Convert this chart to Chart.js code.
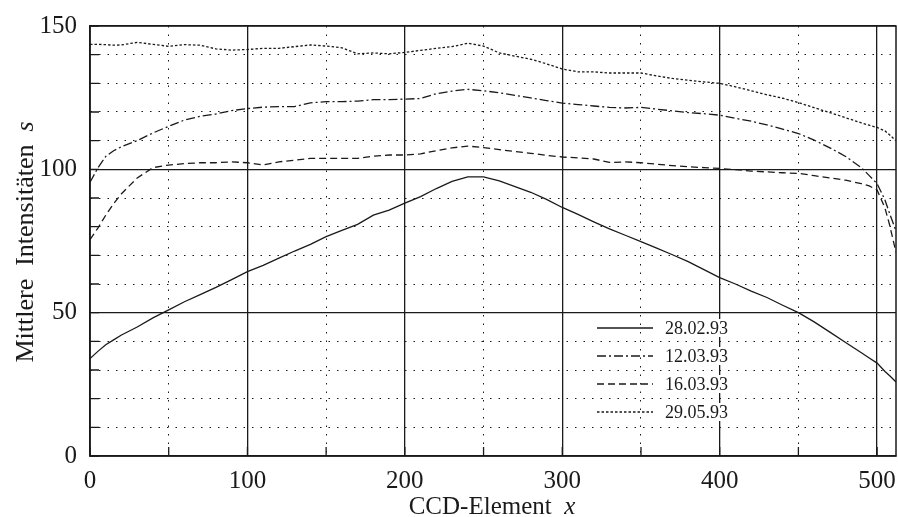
<!DOCTYPE html>
<html>
<head>
<meta charset="utf-8">
<script src="https://cdn.jsdelivr.net/npm/chart.js@4/dist/chart.umd.min.js"></script>
<style>
  html, body { margin: 0; padding: 0; background: #fff; }
  canvas { display: block; }
</style>
</head>
<body>
<canvas id="chart" width="898" height="517"></canvas>
<script>
// Mittlere Intensitaeten ueber CCD-Element, vier Messtage.
const X_POS = [0, 5, 10, 15, 20, 30, 40, 50, 60, 70, 80, 90, 100, 110, 120, 130, 140, 150,
  160, 170, 180, 190, 200, 210, 220, 230, 240, 250, 260, 270, 280, 290, 300, 310, 320,
  330, 340, 350, 360, 370, 380, 390, 400, 410, 420, 430, 440, 450, 460, 470, 480, 490,
  495, 500, 505, 508, 512];

const S_280293 = [34, 36.5, 38.8, 40.5, 42.2, 45, 48.2, 51, 53.8, 56.3, 58.8, 61.5, 64.3,
  66.5, 69, 71.5, 73.8, 76.5, 78.7, 80.8, 84, 85.8, 88.2, 90.5, 93.3, 95.8, 97.4, 97.4,
  96, 94, 92, 89.5, 86.7, 84.3, 81.7, 79.2, 77, 74.8, 72.5, 70.2, 67.8, 65, 62.2, 60,
  57.5, 55.3, 52.6, 50, 46.8, 43.2, 39.6, 36, 34.2, 32.4, 29.5, 28, 25.8];

const S_120393 = [95.5, 100.5, 104.5, 106.5, 107.9, 110, 112.7, 115, 117.2, 118.5, 119.3,
  120.5, 121.2, 121.7, 121.9, 121.9, 123.2, 123.6, 123.6, 123.8, 124.3, 124.3, 124.5,
  124.7, 126.4, 127.3, 127.9, 127.4, 126.7, 125.8, 124.9, 124, 123.1, 122.6, 122.1,
  121.6, 121.4, 121.6, 121, 120.4, 119.8, 119.4, 118.9, 117.8, 116.8, 115.5, 114, 112.5,
  110.2, 107.5, 104.5, 100.6, 97.8, 95, 89.3, 84.5, 78.5];

const S_160393 = [75.5, 79.5, 84, 88, 91.5, 97, 100.6, 101.5, 102, 102.3, 102.3, 102.6,
  102.3, 101.5, 102.6, 103.2, 103.8, 103.8, 103.8, 103.8, 104.6, 105, 105, 105.4, 106.5,
  107.5, 108.1, 107.6, 106.9, 106.2, 105.6, 104.9, 104.3, 104, 103.6, 102.4, 102.6,
  102.3, 101.8, 101.3, 100.9, 100.6, 100.3, 99.9, 99.4, 99.1, 98.8, 98.6, 97.8, 97, 96.2,
  95, 94.2, 92.8, 86.5, 80.5, 71];

const S_290593 = [143.6, 143.6, 143.5, 143.3, 143.4, 144.3, 143.6, 142.9, 143.5, 143.3,
  142, 141.6, 141.8, 142.2, 142.2, 142.8, 143.4, 143, 142.4, 140.3, 140.6, 140.3, 140.8,
  141.5, 142.2, 142.8, 144, 143, 140.6, 139.5, 138.4, 136.8, 135, 134, 134, 133.6, 133.6,
  133.6, 132.6, 131.7, 131.1, 130.5, 130, 128.8, 127.4, 126, 124.8, 123.3, 121.5, 119.8,
  118, 116.2, 115.4, 114.6, 113.4, 112, 110];

const LABELS = ["28.02.93", "12.03.93", "16.03.93", "29.05.93"];
const SERIES = [S_280293, S_120393, S_160393, S_290593];

// Linienstile (Strichmuster) der Kurven
const DASHES = [[], [9, 3, 2, 3], [7, 4], [2.5, 2]];

const INK = "#1a1a1a";
const SERIF = "'Liberation Serif', 'Times New Roman', serif";
const DOTS = [1.5, 7];

function points(ys) {
  return X_POS.map((x, i) => ({ x: x, y: ys[i] }));
}

// Rahmen, Innen-Ticks, Legende und Achsentitel (mit kursivem Symbol)
const decor = {
  id: "decor",
  afterDraw(chart) {
    const { ctx, chartArea: a, scales } = chart;
    ctx.save();
    ctx.strokeStyle = INK;
    ctx.setLineDash([]);

    // Innen-Ticks
    ctx.lineWidth = 1.3;
    ctx.beginPath();
    scales.y.ticks.forEach(t => {
      const y = scales.y.getPixelForValue(t.value);
      ctx.moveTo(a.left, y); ctx.lineTo(a.left + 9, y);
    });
    scales.x.ticks.forEach(t => {
      const x = scales.x.getPixelForValue(t.value);
      ctx.moveTo(x, a.bottom); ctx.lineTo(x, a.bottom - 9);
    });
    ctx.stroke();

    // Rahmen
    ctx.lineWidth = 1.5;
    ctx.strokeRect(a.left, a.top, a.right - a.left, a.bottom - a.top);

    // Legende
    const rows = [328, 356, 384, 412];
    ctx.font = "18px " + SERIF;
    ctx.textBaseline = "middle";
    ctx.textAlign = "left";
    chart.data.datasets.forEach((ds, i) => {
      const y = rows[i];
      const w = ctx.measureText(ds.label).width;
      ctx.fillStyle = "#fff";
      ctx.fillRect(663, y - 9, w + 4, 18);
      ctx.strokeStyle = INK;
      ctx.lineWidth = ds.borderWidth;
      ctx.setLineDash(ds.borderDash);
      ctx.beginPath();
      ctx.moveTo(597, y); ctx.lineTo(653, y);
      ctx.stroke();
      ctx.setLineDash([]);
      ctx.fillStyle = INK;
      ctx.fillText(ds.label, 665, y + 1);
    });

    // Achsentitel
    function mixed(parts, cx, baseY) {
      let total = 0;
      parts.forEach(p => { ctx.font = p.font; total += ctx.measureText(p.text).width; });
      let x = cx - total / 2;
      parts.forEach(p => {
        ctx.font = p.font;
        ctx.fillText(p.text, x, baseY);
        x += ctx.measureText(p.text).width;
      });
    }
    ctx.fillStyle = INK;
    ctx.textBaseline = "alphabetic";
    ctx.textAlign = "left";
    mixed([
      { text: "CCD-Element  ", font: "25px " + SERIF },
      { text: "x", font: "italic 25px " + SERIF },
    ], (a.left + a.right) / 2 - 1, 514);

    ctx.save();
    ctx.translate(33, (a.top + a.bottom) / 2 + 1);
    ctx.rotate(-Math.PI / 2);
    mixed([
      { text: "Mittlere  Intensitäten  ", font: "26px " + SERIF },
      { text: "s", font: "italic 26px " + SERIF },
    ], 0, 0);
    ctx.restore();

    ctx.restore();
  }
};

new Chart(document.getElementById("chart"), {
  type: "line",
  data: {
    datasets: SERIES.map((ys, i) => ({
      label: LABELS[i],
      data: points(ys),
      borderColor: INK,
      borderWidth: 1.3,
      borderDash: DASHES[i],
      pointRadius: 0,
      tension: 0,
      fill: false,
    })),
  },
  options: {
    responsive: false,
    animation: false,
    devicePixelRatio: 1,
    layout: { padding: { top: 26, right: 2, left: 0, bottom: 0 } },
    plugins: { legend: { display: false }, tooltip: { enabled: false } },
    scales: {
      x: {
        type: "linear", min: 0, max: 512,
        afterFit: s => { s.height = 61; s.paddingLeft = 0; s.paddingRight = 0; },
        ticks: {
          stepSize: 50, includeBounds: false, autoSkip: false, maxRotation: 0,
          padding: 10, color: INK, font: { family: SERIF, size: 25 },
          callback: v => (v % 100 === 0 ? String(v) : ""),
        },
        grid: {
          drawTicks: false, color: INK,
          lineWidth: c => (c.tick && c.tick.value % 100 === 0 ? 1.3 : 1),
        },
        border: {
          display: true, color: INK, width: 1.5,
          dash: c => (c.tick && c.tick.value % 100 !== 0 ? DOTS : []),
        },
      },
      y: {
        type: "linear", min: 0, max: 150,
        afterFit: s => { s.width = 90; s.paddingTop = 0; s.paddingBottom = 0; },
        ticks: {
          stepSize: 10, autoSkip: false, padding: 13, color: INK,
          font: { family: SERIF, size: 25 },
          callback: v => (v % 50 === 0 ? String(v) : ""),
        },
        grid: {
          drawTicks: false, color: INK,
          lineWidth: c => (c.tick && c.tick.value % 50 === 0 ? 1.3 : 1),
        },
        border: {
          display: true, color: INK, width: 1.5,
          dash: c => (c.tick && c.tick.value % 50 !== 0 ? DOTS : []),
        },
      },
    },
  },
  plugins: [decor],
});
</script>
</body>
</html>
